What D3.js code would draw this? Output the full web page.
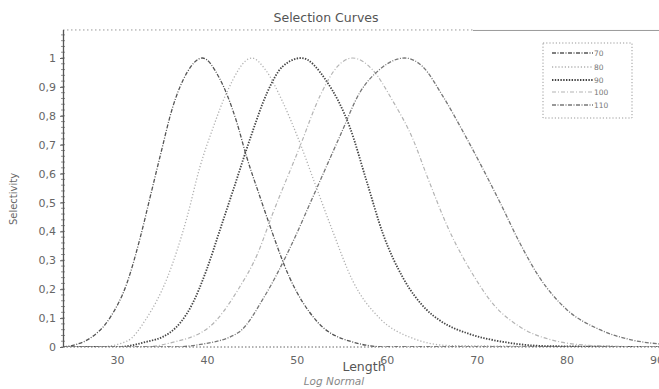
<!DOCTYPE html>
<html>
<head>
<meta charset="utf-8">
<script src="https://cdn.jsdelivr.net/npm/d3@7"></script>
<style>
  body { margin: 0; background: #fff; }
  svg { display: block; }
  text { font-family: "DejaVu Sans", Verdana, sans-serif; }
</style>
</head>
<body>
<div class="chart"></div>
<script>
// dimensions
var svgWidth = 659;
var svgHeight = 389;

// series names (legend)
var seriesNames = ["70", "80", "90", "100", "110"];

// length -> selectivity, one pair of arrays per curve
var len70 = [24, 25.6, 27, 29.2, 31.1, 32.6, 33.7, 34.8, 36.2, 37.8, 39.5, 41.4, 43.3, 44.4, 45.9, 47.0, 49.2, 52.2, 55.9, 60, 90.5];
var sel70 = [0, 0.01, 0.03, 0.10, 0.22, 0.38, 0.52, 0.66, 0.83, 0.95, 1.0, 0.93, 0.78, 0.66, 0.52, 0.42, 0.24, 0.09, 0.02, 0, 0];

var len80 = [24, 28, 31.1, 33.3, 35.6, 37.8, 39.2, 40.7, 42.2, 45, 46.5, 48.4, 50.3, 52.2, 54.0, 56.2, 59.2, 62.9, 67, 90.5];
var sel80 = [0, 0, 0.02, 0.10, 0.24, 0.45, 0.62, 0.76, 0.88, 1.0, 0.96, 0.85, 0.71, 0.55, 0.40, 0.23, 0.10, 0.03, 0.005, 0];

var len90 = [24, 30, 32.9, 35.9, 38.4, 40.0, 41.4, 43.0, 44.8, 46.7, 48.4, 50.5, 53.3, 55.9, 57.8, 59.6, 61.8, 64.4, 66.0, 69.2, 72.9, 78, 90.5];
var sel90 = [0, 0, 0.015, 0.05, 0.15, 0.27, 0.40, 0.55, 0.72, 0.88, 0.97, 1.0, 0.92, 0.76, 0.57, 0.39, 0.24, 0.13, 0.09, 0.045, 0.018, 0.003, 0];

var len100 = [24, 33, 35.9, 40.3, 43.5, 45.6, 47.3, 50.3, 52.6, 54.5, 56.2, 58.4, 60.7, 62.9, 64.5, 67.0, 69.6, 71.8, 74.8, 78.4, 83, 90.5];
var sel100 = [0, 0, 0.014, 0.07, 0.20, 0.32, 0.46, 0.69, 0.87, 0.97, 1.0, 0.96, 0.85, 0.72, 0.59, 0.40, 0.25, 0.15, 0.07, 0.024, 0.005, 0];

var len110 = [24, 36, 39.5, 43.5, 46.5, 49.2, 51.8, 54.8, 57.0, 59.2, 62, 64.0, 66.2, 68.4, 70.3, 72.6, 74.8, 77.0, 80.0, 83.7, 87.3, 90.5];
var sel110 = [0, 0, 0.01, 0.05, 0.18, 0.34, 0.52, 0.73, 0.88, 0.96, 1.0, 0.97, 0.87, 0.75, 0.64, 0.50, 0.36, 0.24, 0.13, 0.06, 0.024, 0.01];

var xTicks = [30, 40, 50, 60, 70, 80, 90];
var yTicks = [0, 0.1, 0.2, 0.3, 0.4, 0.5, 0.6, 0.7, 0.8, 0.9, 1];

var allLens = [len70, len80, len90, len100, len110];
var allSels = [sel70, sel80, sel90, sel100, sel110];

// line looks, same order as seriesNames
var styles = [
  {color: "#555", dash: "4,1.5,1,1.5", width: 1.3},
  {color: "#b0b0b0", dash: "1.2,2", width: 1.3},
  {color: "#444", dash: "1.4,1.4", width: 1.8},
  {color: "#b4b4b4", dash: "4,2,1,2", width: 1.2},
  {color: "#777", dash: "4,1.5,1,1.5", width: 1.3}
];

var svg = d3.select(".chart")
  .append("svg")
  .attr("width", svgWidth)
  .attr("height", svgHeight);

var x = d3.scaleLinear().domain([24, 90.5]).range([63, 661]);
var y = d3.scaleLinear().domain([0, 1]).range([347, 58]);
var yTop = y(1.097);

// title
svg.append("text")
  .attr("x", 326)
  .attr("y", 22)
  .attr("text-anchor", "middle")
  .attr("font-size", "12.5px")
  .attr("fill", "#555")
  .text("Selection Curves");

// top border: dotted then solid
svg.append("line")
  .attr("x1", 63).attr("x2", 473)
  .attr("y1", yTop).attr("y2", yTop)
  .attr("stroke", "#999")
  .attr("stroke-dasharray", "1.5,2.5");
svg.append("line")
  .attr("x1", 473).attr("x2", 659)
  .attr("y1", yTop + 0.5).attr("y2", yTop + 0.5)
  .attr("stroke", "#999")
  .attr("stroke-width", 1);

// clip for curves
svg.append("clipPath").attr("id", "plot")
  .append("rect")
  .attr("x", 63).attr("y", yTop)
  .attr("width", svgWidth - 63).attr("height", 347 - yTop);

var line = d3.line()
  .x(d => x(d[0]))
  .y(d => y(d[1]))
  .curve(d3.curveMonotoneX);

var curveGroup = svg.append("g").attr("clip-path", "url(#plot)");

seriesNames.forEach(function(name, i) {
  var pts = allLens[i].map((l, j) => [l, allSels[i][j]]);
  curveGroup.append("path")
    .datum(pts)
    .attr("d", line)
    .attr("fill", "none")
    .attr("stroke", styles[i].color)
    .attr("stroke-width", styles[i].width)
    .attr("stroke-dasharray", styles[i].dash);
});

// x axis (dotted baseline)
svg.append("line")
  .attr("x1", 63).attr("x2", 659)
  .attr("y1", y(0)).attr("y2", y(0))
  .attr("stroke", "#666")
  .attr("stroke-dasharray", "1.5,2");

var bottomAxis = d3.axisBottom(x)
  .tickValues(xTicks)
  .tickSize(0)
  .tickPadding(9)
  .tickFormat(d3.format("d"));

var xAxis = svg.append("g")
  .attr("transform", `translate(0, ${y(0)})`)
  .call(bottomAxis);
xAxis.select(".domain").remove();
xAxis.selectAll("text")
  .attr("fill", "#666")
  .attr("font-size", "11px")
  .attr("font-family", "DejaVu Sans, sans-serif");

// y axis with minor ticks
var minorTicks = d3.range(0, 1.0901, 0.02);
svg.append("g")
  .selectAll("line")
  .data(minorTicks)
  .enter()
  .append("line")
  .attr("x1", 61).attr("x2", 65)
  .attr("y1", d => y(d)).attr("y2", d => y(d))
  .attr("stroke", "#777")
  .attr("stroke-width", 0.8);

var leftAxis = d3.axisLeft(y)
  .tickValues(yTicks)
  .tickSize(3)
  .tickPadding(4)
  .tickFormat(d => d === 0 || d === 1 ? String(d) : d3.format(".1f")(d).replace(".", ","));

var yAxis = svg.append("g")
  .attr("transform", "translate(63,0)")
  .call(leftAxis);
yAxis.select(".domain").remove();
yAxis.selectAll("line").attr("stroke", "#666");
yAxis.selectAll("text")
  .attr("fill", "#666")
  .attr("font-size", "11px")
  .attr("font-family", "DejaVu Sans, sans-serif");

svg.append("line")
  .attr("x1", 63.5).attr("x2", 63.5)
  .attr("y1", yTop).attr("y2", y(0))
  .attr("stroke", "#555")
  .attr("stroke-width", 1.3);

// axis titles
svg.append("text")
  .attr("x", 364)
  .attr("y", 371)
  .attr("text-anchor", "middle")
  .attr("font-size", "12.5px")
  .attr("fill", "#555")
  .text("Length");

svg.append("text")
  .attr("transform", "translate(17,199)rotate(-90)")
  .attr("text-anchor", "middle")
  .attr("font-size", "10px")
  .attr("fill", "#666")
  .text("Selectivity");

svg.append("text")
  .attr("x", 334)
  .attr("y", 385)
  .attr("text-anchor", "middle")
  .attr("font-size", "10.5px")
  .attr("font-style", "italic")
  .attr("font-family", "Liberation Serif, serif")
  .attr("fill", "#888")
  .text("Log Normal");

// legend
var legend = svg.append("g");
legend.append("rect")
  .attr("x", 543).attr("y", 43)
  .attr("width", 89).attr("height", 75)
  .attr("fill", "#fff")
  .attr("stroke", "#999")
  .attr("stroke-dasharray", "1.2,2");

var legendY = [53, 67, 80, 92, 105];
seriesNames.forEach(function(name, i) {
  legend.append("line")
    .attr("x1", 552).attr("x2", 593)
    .attr("y1", legendY[i]).attr("y2", legendY[i])
    .attr("stroke", styles[i].color)
    .attr("stroke-width", styles[i].width)
    .attr("stroke-dasharray", styles[i].dash);
  legend.append("text")
    .attr("x", 594)
    .attr("y", legendY[i] + 2.5)
    .attr("font-size", "7.5px")
    .attr("font-family", "Liberation Serif, serif")
    .attr("fill", "#777")
    .text(name);
});
</script>
</body>
</html>
